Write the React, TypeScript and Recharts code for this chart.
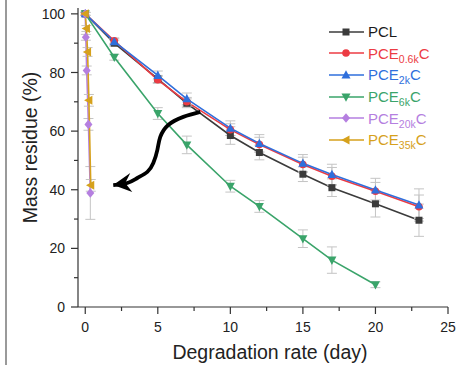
import React from 'react';
import { LineChart, Line, XAxis, YAxis, ErrorBar } from 'recharts';

document.body.style.margin = '0';

const FONT = '"Liberation Sans", Arial, sans-serif';

// degradation days
const days = [0, 2, 5, 7, 10, 12, 15, 17, 20, 23];
const days6k = [0, 2, 5, 7, 10, 12, 15, 17, 20];
const days20k = [0, 0.04, 0.1, 0.22, 0.35];
const days35k = [0, 0.08, 0.16, 0.25, 0.38];

// mass residue (%)
const pcl = [100, 90, 77.8, 69.5, 58.5, 52.7, 45.3, 40.7, 35.2, 29.6];
const pcl06k = [100, 90.8, 77.5, 70, 60.5, 55.4, 48.6, 44.6, 39.5, 34.2];
const pcl2k = [100, 90.5, 79, 71, 61, 55.8, 49, 45.2, 39.9, 34.8];
const pce6k = [100, 85.2, 66, 55.3, 41.2, 34.3, 23.3, 16, 7.6];
const pce20k = [100, 92, 80.7, 62.3, 38.9];
const pce35k = [100, 95, 87, 70.5, 41.5];

// error (±)
const pclErr = [0.5, 1, 1.2, 1.5, 3, 2.5, 2.5, 3, 4.5, 5.5];
const pce06kErr = [0.5, 1, 1.2, 1.5, 2, 2.5, 2.5, 3, 3, 4];
const pce2kErr = [0.5, 1, 1.5, 2, 2.5, 3, 3, 3.5, 4, 5.5];
const pce6kErr = [0.5, 1, 2, 3, 2, 2, 3, 4.5, 1];
const pce20kErr = [0.5, 1, 1.5, 2, 9];
const pce35kErr = [0.5, 1, 1.5, 2, 2];

// curved arrow annotation (data coordinates)
const arrowX = [7.93, 6.76, 5.72, 5.17, 4.97, 4.69, 4.28, 3.59, 2.9, 1.93];
const arrowY = [66.55, 64.85, 62.1, 58.0, 53.6, 49.1, 46.1, 44.0, 42.3, 41.6];

const yTicks = [0, 10, 20, 30, 40, 50, 60, 70, 80, 90, 100];
const xTicks = [0, 2.5, 5, 7.5, 10, 12.5, 15, 17.5, 20, 22.5, 25];

const build = (xs, ys, es) => xs.map((x, i) => ({ x, y: ys[i], e: es[i] }));

const series = [
  { name: 'PCL', sub: '', tail: '', data: build(days, pcl, pclErr), color: '#3b3b3b', text: '#1a1a1a', shape: 'square' },
  { name: 'PCE', sub: '0.6k', tail: 'C', data: build(days, pcl06k, pce06kErr), color: '#ec3b43', text: '#ec3b43', shape: 'circle' },
  { name: 'PCE', sub: '2k', tail: 'C', data: build(days, pcl2k, pce2kErr), color: '#2f6fdc', text: '#2f6fdc', shape: 'up' },
  { name: 'PCE', sub: '6k', tail: 'C', data: build(days6k, pce6k, pce6kErr), color: '#3aa46a', text: '#3aa46a', shape: 'down' },
  { name: 'PCE', sub: '20k', tail: 'C', data: build(days20k, pce20k, pce20kErr), color: '#b57fe0', text: '#b57fe0', shape: 'diamond' },
  { name: 'PCE', sub: '35k', tail: 'C', data: build(days35k, pce35k, pce35kErr), color: '#d6a11c', text: '#d6a11c', shape: 'left' },
];

const arrowData = arrowX.map((x, i) => ({ x, y: arrowY[i] }));

const Marker = ({ cx, cy, shape, color }) => {
  if (cx == null || cy == null) return null;
  switch (shape) {
    case 'square':
      return <rect x={cx - 3.5} y={cy - 3.5} width={7} height={7} fill={color} />;
    case 'circle':
      return <circle cx={cx} cy={cy} r={3.8} fill={color} />;
    case 'up':
      return <polygon points={`${cx},${cy - 4.8} ${cx - 4.5},${cy + 3.5} ${cx + 4.5},${cy + 3.5}`} fill={color} />;
    case 'down':
      return <polygon points={`${cx},${cy + 4.8} ${cx - 4.5},${cy - 3.5} ${cx + 4.5},${cy - 3.5}`} fill={color} />;
    case 'diamond':
      return <polygon points={`${cx},${cy - 4.8} ${cx + 4},${cy} ${cx},${cy + 4.8} ${cx - 4},${cy}`} fill={color} />;
    default:
      return <polygon points={`${cx - 4.8},${cy} ${cx + 3.5},${cy - 4.5} ${cx + 3.5},${cy + 4.5}`} fill={color} />;
  }
};

const YTick = ({ x, y, payload }) => {
  const major = payload.value % 20 === 0;
  return (
    <g>
      <line x1={x} x2={x - (major ? 7 : 4)} y1={y} y2={y} stroke="#333" strokeWidth={1.2} />
      {major && (
        <text x={x - 13} y={y} dy="0.36em" textAnchor="end" fontSize={14} fill="#222" fontFamily={FONT}>
          {payload.value}
        </text>
      )}
    </g>
  );
};

const XTick = ({ x, y, payload }) => {
  const major = payload.value % 5 === 0;
  return (
    <g>
      <line x1={x} x2={x} y1={y} y2={y + (major ? 7 : 4)} stroke="#333" strokeWidth={1.2} />
      {major && (
        <text x={x} y={y + 20} dy="0.36em" textAnchor="middle" fontSize={14} fill="#222" fontFamily={FONT}>
          {payload.value}
        </text>
      )}
    </g>
  );
};

const ArrowHead = (props) => {
  const { cx, cy, index } = props;
  if (index !== arrowData.length - 1) return <g key={`a${index}`} />;
  return (
    <polygon
      key={`a${index}`}
      points={`${cx},${cy} ${cx + 17},${cy - 12} ${cx + 12},${cy - 2} ${cx + 19},${cy + 7}`}
      fill="#000"
    />
  );
};

const LegendBox = () => (
  <div style={{ position: 'absolute', left: 329, top: 21, fontFamily: FONT, fontSize: 15 }}>
    {series.map((s) => (
      <div key={s.name + s.sub} style={{ height: 21.6, display: 'flex', alignItems: 'center', whiteSpace: 'nowrap' }}>
        <svg width={36} height={12} style={{ marginRight: 3 }}>
          <line x1={0} x2={35} y1={6} y2={6} stroke={s.color} strokeWidth={1.6} />
          <Marker cx={17} cy={6} shape={s.shape} color={s.color} />
        </svg>
        <span style={{ color: s.text }}>
          {s.name}
          {s.sub && <span style={{ fontSize: 10.5, position: 'relative', top: 4 }}>{s.sub}</span>}
          {s.tail}
        </span>
      </div>
    ))}
  </div>
);

export default function App() {
  return (
    <div style={{ position: 'relative', width: 457, height: 365, background: '#fff' }}>
      <div style={{ position: 'absolute', left: 5, top: 0, width: 2, height: 365, background: '#9a9a9a' }} />
      <LineChart width={457} height={365} margin={{ top: 8, right: 9, left: 0, bottom: 0 }}>
        <XAxis
          dataKey="x"
          type="number"
          domain={[-0.5, 25]}
          ticks={xTicks}
          interval={0}
          allowDataOverflow
          height={58}
          tickSize={0}
          tickMargin={0}
          tickLine={false}
          axisLine={{ stroke: '#333', strokeWidth: 1.2 }}
          tick={XTick}
          label={{ value: 'Degradation rate (day)', position: 'center', dx: 7, dy: 16, fontSize: 19.5, fill: '#222', fontFamily: FONT }}
        />
        <XAxis xAxisId="top" orientation="top" type="number" domain={[-0.5, 25]} height={0} tick={false} tickLine={false} axisLine={{ stroke: '#333', strokeWidth: 1.2 }} />
        <YAxis
          type="number"
          domain={[0, 102]}
          ticks={yTicks}
          interval={0}
          allowDataOverflow
          width={78}
          tickSize={0}
          tickMargin={0}
          tickLine={false}
          axisLine={{ stroke: '#333', strokeWidth: 1.2 }}
          tick={YTick}
          label={{ value: 'Mass residue (%)', angle: -90, position: 'center', dx: -9, dy: -10, fontSize: 19.5, fill: '#222', fontFamily: FONT }}
        />
        <YAxis yAxisId="right" orientation="right" type="number" domain={[0, 102]} width={0} tick={false} tickLine={false} axisLine={{ stroke: '#333', strokeWidth: 1.2 }} />
        {series.map((s) => (
          <Line
            key={s.name + s.sub}
            data={s.data}
            dataKey="y"
            type="linear"
            stroke={s.color}
            strokeWidth={1.6}
            isAnimationActive={false}
            dot={(p) => <Marker key={p.index} cx={p.cx} cy={p.cy} shape={s.shape} color={s.color} />}
            activeDot={false}
          >
            <ErrorBar dataKey="e" direction="y" width={5} stroke="#c4c4c4" strokeWidth={1} />
          </Line>
        ))}
        <Line
          data={arrowData}
          dataKey="y"
          type="natural"
          stroke="#000"
          strokeWidth={3.8}
          isAnimationActive={false}
          dot={ArrowHead}
          activeDot={false}
        />
      </LineChart>
      <LegendBox />
    </div>
  );
}
